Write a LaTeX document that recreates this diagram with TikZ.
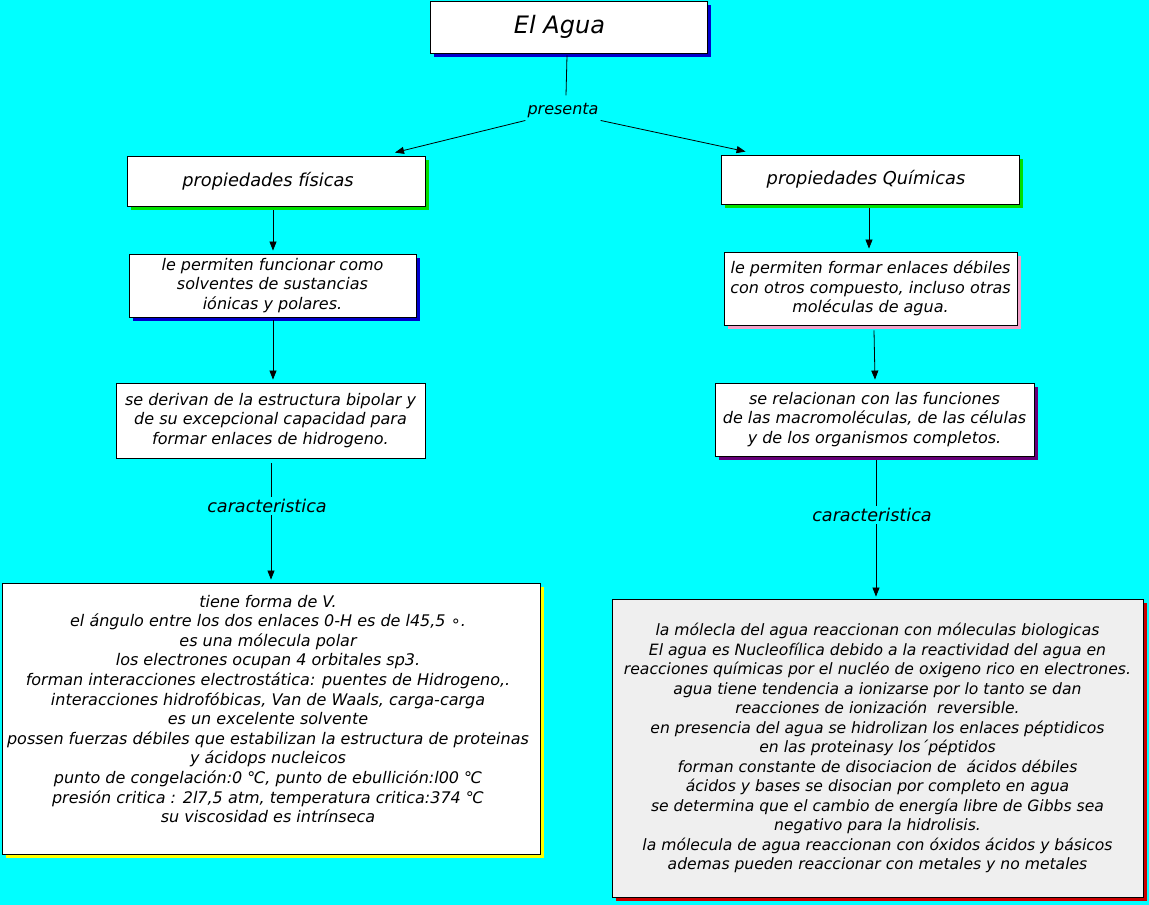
\documentclass[tikz,border=0pt]{standalone}
\usepackage{fontspec}
\setmainfont{DejaVu Sans}
\usetikzlibrary{arrows.meta,shadows,calc}
\definecolor{bgcyan}{HTML}{00FFFF}
\definecolor{shblue}{HTML}{0000CC}
\definecolor{shgreen}{HTML}{00E000}
\definecolor{shyellow}{HTML}{FFFF00}
\definecolor{shpink}{HTML}{F0A0C8}
\definecolor{shpurple}{HTML}{660077}
\definecolor{shred}{HTML}{CC0000}
\definecolor{lightbox}{HTML}{EFEFEF}
\tikzset{
  box/.style={draw=black, line width=0.9pt, fill=white, inner sep=0pt, align=center},
  sh/.style={drop shadow={fill=#1, opacity=1, shadow xshift=4pt, shadow yshift=-4pt}},
  lefttxt/.style={font=\fontsize{16}{19.6}\selectfont\itshape},
  righttxt/.style={font=\fontsize{15.6}{19.5}\selectfont\itshape},
  midtxt/.style={font=\fontsize{16}{19.5}\selectfont\itshape},
  headtxt/.style={font=\fontsize{17.8}{21}\selectfont\itshape},
  lbl/.style={font=\fontsize{17.6}{20}\selectfont\itshape, inner sep=2pt},
  conn/.style={line width=0.8pt, draw=black},
  arr/.style={conn, -{Triangle[length=9pt,width=7pt]}},
}
\begin{document}
\begin{tikzpicture}[x=1pt,y=-1pt]
\fill[bgcyan] (0,0) rectangle (1149,905);
\useasboundingbox (0,0) rectangle (1149,905);

% nodes
\node[box, sh=shblue, minimum width=277pt, minimum height=52pt, font=\fontsize{24}{28}\selectfont\itshape] (title) at (568.5,27) {El Agua\hspace*{18pt}};
\node[font=\fontsize{16}{18}\selectfont\itshape, inner sep=2pt] (pres) at (563,111) {presenta};

\node[box, sh=shgreen, minimum width=298pt, minimum height=50pt, headtxt] (fis) at (276,181) {propiedades físicas\hspace*{16pt}};
\node[box, sh=shgreen, minimum width=298pt, minimum height=49pt, headtxt] (qui) at (870,179.5) {propiedades Químicas\hspace*{8pt}};

\node[box, sh=shblue, minimum width=287pt, minimum height=63pt, midtxt] (lpf) at (272.5,285.5) {le permiten funcionar como\\solventes de sustancias\\ iónicas y polares.};
\node[box, minimum width=309pt, minimum height=75pt, midtxt] (der) at (270.5,420.5) {se derivan de la estructura bipolar y\\de su excepcional capacidad para\\formar enlaces de hidrogeno.};

\node[box, sh=shpink, minimum width=293pt, minimum height=73pt, midtxt] (lpe) at (870.5,288.5) {le permiten formar enlaces débiles\\con otros compuesto, incluso otras\\moléculas de agua.};
\node[box, sh=shpurple, minimum width=319pt, minimum height=73pt, midtxt] (rel) at (874.5,419.5) {se relacionan con las funciones\\de las macromoléculas, de las células\\y de los organismos completos.};

\node[lbl] (carl) at (267,506) {caracteristica};
\node[lbl] (carr) at (872,515) {caracteristica};

\node[box, sh=shyellow, minimum width=538pt, minimum height=271pt] (bigl) at (271,718.5) {};
\node[lefttxt, align=center, inner sep=0pt] (bigltxt) at (268,709) {tiene forma de V.\\
el ángulo entre los dos enlaces 0-H es de l45,5 ∘.\\
es una mólecula polar\\
los electrones ocupan 4 orbitales sp3.\\
forman interacciones electrostática: puentes de Hidrogeno,.\\
interacciones hidrofóbicas, Van de Waals, carga-carga\\
es un excelente solvente\\
possen fuerzas débiles que estabilizan la estructura de proteinas\\
y ácidops nucleicos\\
punto de congelación:0 ℃, punto de ebullición:l00 ℃\\
presión critica : 2l7,5 atm, temperatura critica:374 ℃\\
su viscosidad es intrínseca};

\node[box, fill=lightbox, sh=shred, minimum width=531pt, minimum height=298pt, righttxt] (bigr) at (877.5,748) {la mólecla del agua reaccionan con móleculas biologicas\\
El agua es Nucleofílica debido a la reactividad del agua en\\
reacciones químicas por el nucléo de oxigeno rico en electrones.\\
agua tiene tendencia a ionizarse por lo tanto se dan\\
reacciones de ionización\ \ reversible.\\
en presencia del agua se hidrolizan los enlaces péptidicos\\
en las proteinasy los´péptidos\\
forman constante de disociacion de\ \ ácidos débiles\\
ácidos y bases se disocian por completo en agua\\
se determina que el cambio de energía libre de Gibbs sea\\
negativo para la hidrolisis.\\
la mólecula de agua reaccionan con óxidos ácidos y básicos\\
ademas pueden reaccionar con metales y no metales};

% connectors
\draw[conn] ($(title.south)+(-1.5,2)$) -- ($(title.south)+(-2.5,42)$);
\draw[arr] ($(pres.south west)+(0,0)$) -- ($(fis.north)+(119,-3)$);
\draw[arr] ($(pres.south east)+(0,0)$) -- ($(qui.north west)+(25,-3)$);

\draw[arr] ($(fis.south)+(-3,4)$) -- ($(lpf.north)+(0.5,-3)$);
\draw[arr] ($(lpf.south)+(0.5,3)$) -- ($(der.north)+(2.5,-3)$);
\draw[conn] ($(der.south)+(0.5,5)$) -- (carl.north -| {$(der.south)+(0.5,0)$});
\draw[arr] (carl.south -| {$(der.south)+(0.5,0)$}) -- ($(bigl.north)+(0,-3)$);

\draw[arr] ($(qui.south)+(-1,4)$) -- ($(lpe.north)+(-1.5,-3)$);
\draw[arr] ($(lpe.south)+(3.5,5)$) -- ($(rel.north)+(0.5,-3)$);
\draw[conn] ($(rel.south)+(1.5,4)$) -- (carr.north -| {$(rel.south)+(1.5,0)$});
\draw[arr] (carr.south -| {$(rel.south)+(1.5,0)$}) -- ($(bigr.north)+(-1.5,-2)$);
\end{tikzpicture}
\end{document}
